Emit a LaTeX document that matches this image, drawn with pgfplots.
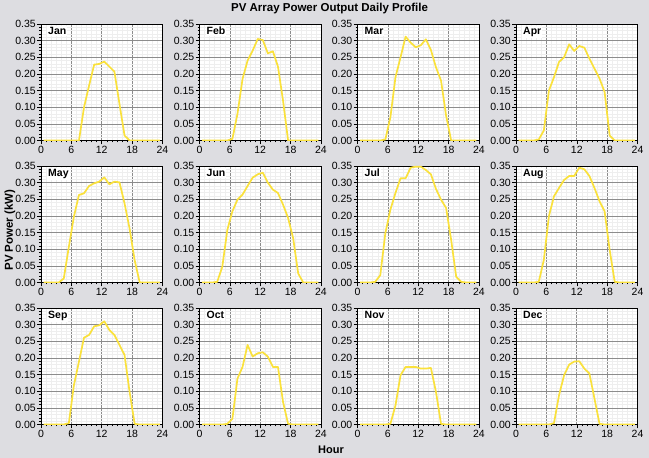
\documentclass[border=0pt]{standalone}
\usepackage{fontspec}
\setmainfont{Liberation Sans}
\usepackage{pgfplots}
\usepackage{pgfplotstable}
\pgfplotsset{compat=1.18}
\definecolor{bg}{RGB}{221,221,225}
\definecolor{pvline}{RGB}{250,225,60}

\pgfplotstableread{
h    jan   feb   mar   apr   may   jun   jul   aug   sep   oct   nov   dec
0.5  0     0     0     0     0     0     0     0     0     0     0     0
1.5  0     0     0     0     0     0     0     0     0     0     0     0
2.5  0     0     0     0     0     0     0     0     0     0     0     0
3.5  0     0     0     0     0     0.002 0.002 0     0     0     0     0
4.5  0     0     0     0.003 0.012 0.047 0.022 0.002 0     0     0     0
5.5  0     0     0.003 0.030 0.107 0.158 0.148 0.068 0.004 0.002 0     0
6.5  0     0.005 0.070 0.150 0.198 0.214 0.219 0.199 0.118 0.017 0.002 0
7.5  0     0.080 0.190 0.190 0.263 0.249 0.269 0.259 0.189 0.138 0.057 0.004
8.5  0.100 0.185 0.250 0.236 0.268 0.264 0.313 0.284 0.261 0.173 0.148 0.088
9.5  0.165 0.240 0.312 0.250 0.290 0.290 0.313 0.308 0.269 0.239 0.173 0.148
10.5 0.228 0.270 0.294 0.289 0.298 0.315 0.345 0.320 0.295 0.204 0.173 0.180
11.5 0.230 0.305 0.280 0.269 0.303 0.325 0.348 0.320 0.298 0.214 0.173 0.189
12.5 0.237 0.302 0.286 0.284 0.316 0.330 0.348 0.345 0.310 0.217 0.168 0.190
13.5 0.222 0.262 0.304 0.279 0.295 0.300 0.338 0.340 0.284 0.204 0.168 0.168
14.5 0.207 0.268 0.272 0.246 0.303 0.279 0.325 0.320 0.269 0.173 0.170 0.153
15.5 0.110 0.222 0.220 0.216 0.301 0.269 0.281 0.284 0.239 0.173 0.098 0.078
16.5 0.015 0.120 0.180 0.186 0.238 0.234 0.249 0.244 0.209 0.068 0.002 0.002
17.5 0     0     0.075 0.146 0.162 0.194 0.224 0.214 0.098 0.002 0     0
18.5 0     0     0     0.015 0.067 0.133 0.128 0.098 0.002 0     0     0
19.5 0     0     0     0     0     0.027 0.017 0.002 0     0     0     0
20.5 0     0     0     0     0     0     0.002 0     0     0     0     0
21.5 0     0     0     0     0     0     0     0     0     0     0     0
22.5 0     0     0     0     0     0     0     0     0     0     0     0
23.5 0     0     0     0     0     0     0     0     0     0     0     0
}\pvdata

\pgfplotsset{
  panel/.style={
    scale only axis, width=121.5pt, height=116.5pt, anchor=south west,
    xmin=0, xmax=24, ymin=0, ymax=0.35,
    xtick={0,6,12,18,24},
    ytick={0,0.05,0.1,0.15,0.2,0.25,0.3,0.35},
    minor x tick num=5, minor y tick num=4,
    grid=both,
    major grid style={draw=gray!90, line width=0.6pt},
    minor grid style={draw=gray!13, line width=0.4pt},
    tick align=outside, tick pos=left,
    major tick length=4pt, minor tick length=2pt,
    every tick/.style={black, line width=0.5pt},
    axis line style={black, line width=0.8pt},
    axis background/.style={fill=white},
    /pgf/number format/assume math mode=true,
    ticklabel style={font=\fontsize{10.5}{12}\selectfont, inner sep=1pt},
    yticklabel style={/pgf/number format/.cd, fixed, fixed zerofill, precision=2},
    xticklabel style={/pgf/number format/.cd, fixed, precision=0},
  }
}

\newcommand{\panel}[4]{%
\begin{axis}[panel, at={(#1pt,#2pt)}]
\addplot[pvline, line width=1.7pt, line join=round, mark=none] table[x=h, y=#3] {\pvdata};
\node[anchor=north west, font=\bfseries\fontsize{10.5}{12}\selectfont, inner sep=1pt, fill=white] at (rel axis cs:0,1) [xshift=6pt, yshift=-2pt] {#4};
\end{axis}}

\begin{document}
\begin{tikzpicture}
\path[use as bounding box, fill=bg] (0,0) rectangle (649pt,458pt);
\panel{41}{317.5}{jan}{Jan}
\panel{199.5}{317.5}{feb}{Feb}
\panel{357.5}{317.5}{mar}{Mar}
\panel{516}{317.5}{apr}{Apr}
\panel{41}{175.5}{may}{May}
\panel{199.5}{175.5}{jun}{Jun}
\panel{357.5}{175.5}{jul}{Jul}
\panel{516}{175.5}{aug}{Aug}
\panel{41}{33.5}{sep}{Sep}
\panel{199.5}{33.5}{oct}{Oct}
\panel{357.5}{33.5}{nov}{Nov}
\panel{516}{33.5}{dec}{Dec}
\node[font=\bfseries\fontsize{11.5}{13}\selectfont] at (329.5pt,449.5pt) {PV Array Power Output Daily Profile};
\node[rotate=90, font=\bfseries\fontsize{11.5}{13}\selectfont] at (10pt,228pt) {PV Power (kW)};
\node[font=\bfseries\fontsize{11}{13}\selectfont] at (331pt,8pt) {Hour};
\end{tikzpicture}
\end{document}
